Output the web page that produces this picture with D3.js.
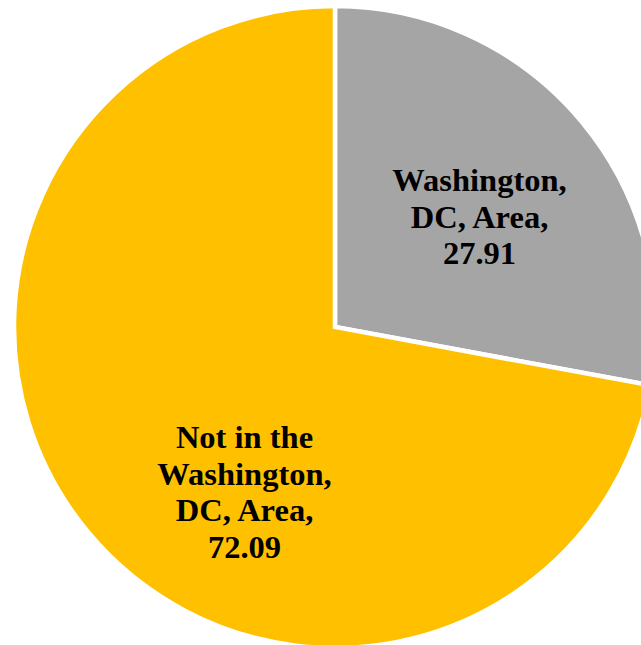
<!DOCTYPE html>
<html>
<head>
<meta charset="utf-8">
<script src="https://cdn.jsdelivr.net/npm/d3@7"></script>
<style>
  html, body { margin: 0; padding: 0; background: #ffffff; }
  svg { display: block; }
  .label { font-family: "Times New Roman", "Liberation Serif", serif; font-weight: 700; }
</style>
</head>
<body>
<svg id="chart" width="641" height="645"></svg>
<script>
// Share of respondents by location
const categories = ["Washington, DC, Area", "Not in the Washington, DC, Area"];
const values = [27.91, 72.09];
const nameLines = [["Washington,", "DC, Area,"], ["Not in the", "Washington,", "DC, Area,"]];
const colors = ["#A5A5A5", "#FFC000"];

// Layout
const width = 641, height = 645;
const cx = 335, cy = 327, radius = 321;
const fontSize = 32.5, lineGap = 36.6;
// Label anchor (first baseline) offsets from the pie centre
const labelAnchors = [[144.5, -136], [-90.5, 121]];

const svg = d3.select("#chart");
const g = svg.append("g").attr("transform", `translate(${cx},${cy})`);

const pie = d3.pie().sort(null).value(d => d.value).startAngle(0).endAngle(2 * Math.PI);
const arc = d3.arc().innerRadius(0).outerRadius(radius);

const data = categories.map((c, i) => ({ name: c, value: values[i], lines: nameLines[i], color: colors[i] }));
const arcs = pie(data);

g.selectAll("path.slice")
  .data(arcs)
  .join("path")
  .attr("class", "slice")
  .attr("d", arc)
  .attr("fill", d => d.data.color)
  .attr("stroke", "#ffffff")
  .attr("stroke-width", 4.5)
  .attr("stroke-linejoin", "miter");

const labels = g.selectAll("text.label")
  .data(arcs)
  .join("text")
  .attr("class", "label")
  .attr("text-anchor", "middle")
  .attr("font-size", fontSize)
  .attr("fill", "#000000")
  .attr("transform", (d, i) => `translate(${labelAnchors[i][0]},${labelAnchors[i][1]})`);

labels.selectAll("tspan")
  .data(d => d.data.lines.concat([d3.format(".2f")(d.data.value)]))
  .join("tspan")
  .attr("x", 0)
  .attr("y", (d, i) => i * lineGap)
  .text(d => d);
</script>
</body>
</html>
